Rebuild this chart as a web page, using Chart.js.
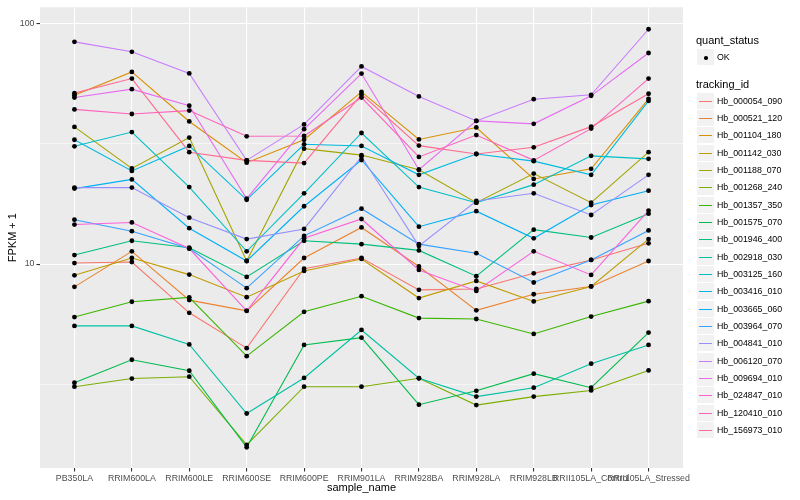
<!DOCTYPE html>
<html>
<head>
<meta charset="utf-8">
<script src="https://cdn.jsdelivr.net/npm/chart.js@4.4.1/dist/chart.umd.min.js"></script>
<style>
  body { margin: 0; background: #fff; }
  #wrap { position: relative; width: 800px; height: 500px; font-family: "Liberation Sans", Arial, sans-serif; }
  #legend { position: absolute; left: 0; top: 0; }
  .lg-title { position: absolute; font-size: 11px; line-height: 13px; color: #000; white-space: nowrap; }
  .lg-key { position: absolute; width: 17px; height: 16px; background: #f2f2f2; }
  .lg-label { position: absolute; font-size: 8.8px; line-height: 10px; color: #000; white-space: nowrap; }
</style>
</head>
<body>
<div id="wrap">
  <canvas id="chart" width="800" height="500"></canvas>
  <div id="legend"></div>
</div>
<script>
const sampleNames = ["PB350LA", "RRIM600LA", "RRIM600LE", "RRIM600SE", "RRIM600PE", "RRIM901LA",
  "RRIM928BA", "RRIM928LA", "RRIM928LB", "RRII105LA_Control", "RRII105LA_Stressed"];

const trackingIds = ["Hb_000054_090", "Hb_000521_120", "Hb_001104_180", "Hb_001142_030", "Hb_001188_070",
  "Hb_001268_240", "Hb_001357_350", "Hb_001575_070", "Hb_001946_400", "Hb_002918_030",
  "Hb_003125_160", "Hb_003416_010", "Hb_003665_060", "Hb_003964_070", "Hb_004841_010",
  "Hb_006120_070", "Hb_009694_010", "Hb_024847_010", "Hb_120410_010", "Hb_156973_010"];

// FPKM + 1, one value per sample
const hb_000054_090 = [10.1, 10.2, 6.27, 4.47, 9.57, 10.6, 7.81, 7.88, 9.15, 10.4, 12.2];
const hb_000521_120 = [8.04, 11.3, 7.08, 6.39, 10.6, 14.2, 9.77, 6.42, 7.49, 8.07, 10.3];
const hb_001104_180 = [50.4, 63.0, 39.2, 26.4, 32.9, 52.0, 33.0, 37.0, 22.6, 24.9, 48.7];
const hb_001142_030 = [8.98, 10.6, 9.04, 7.28, 9.36, 10.5, 7.22, 8.51, 6.99, 8.07, 12.7];
const hb_001188_070 = [37.2, 25.0, 33.6, 10.3, 30.2, 28.4, 24.7, 18.0, 23.8, 18.0, 29.2];
const hb_001268_240 = [3.09, 3.34, 3.40, 1.77, 3.09, 3.09, 3.35, 2.59, 2.81, 2.98, 3.61];
const hb_001357_350 = [6.02, 6.97, 7.27, 4.14, 6.33, 7.35, 5.96, 5.91, 5.12, 6.05, 7.01];
const hb_001575_070 = [3.21, 4.00, 3.60, 1.73, 4.61, 4.94, 2.60, 2.97, 3.50, 3.06, 5.19];
const hb_001946_400 = [10.9, 12.5, 11.7, 8.84, 12.5, 12.1, 11.4, 8.90, 13.9, 12.9, 16.2];
const hb_002918_030 = [5.53, 5.53, 4.63, 2.39, 3.36, 5.32, 3.35, 2.81, 3.06, 3.85, 4.61];
const hb_003125_160 = [30.9, 35.4, 20.9, 11.3, 19.7, 35.1, 20.9, 18.0, 21.4, 28.2, 27.4];
const hb_003416_010 = [32.9, 24.4, 31.0, 18.5, 31.5, 31.0, 23.5, 28.7, 26.8, 23.5, 47.7];
const hb_003665_060 = [20.6, 22.5, 14.1, 10.3, 17.4, 27.1, 14.3, 16.6, 12.8, 17.6, 20.2];
const hb_003964_070 = [15.3, 13.7, 11.6, 7.94, 13.1, 17.0, 12.1, 11.1, 8.38, 10.4, 13.8];
const hb_004841_010 = [20.8, 20.8, 15.6, 12.7, 14.0, 28.0, 11.9, 18.3, 19.7, 16.0, 23.5];
const hb_006120_070 = [84.0, 76.4, 62.1, 27.0, 38.1, 66.4, 49.8, 39.4, 48.5, 50.6, 94.8];
const hb_009694_010 = [49.3, 53.4, 45.6, 18.7, 36.4, 62.0, 24.7, 39.4, 38.3, 50.1, 75.5];
const hb_024847_010 = [14.6, 14.9, 11.6, 6.39, 12.8, 15.4, 9.45, 7.73, 11.3, 9.01, 16.7];
const hb_120410_010 = [44.0, 42.1, 43.5, 34.0, 34.1, 49.3, 27.9, 34.4, 27.0, 36.6, 59.1];
const hb_156973_010 = [51.4, 59.1, 29.2, 27.0, 26.3, 50.8, 31.1, 28.7, 30.6, 37.3, 51.1];

const seriesValues = [hb_000054_090, hb_000521_120, hb_001104_180, hb_001142_030, hb_001188_070,
  hb_001268_240, hb_001357_350, hb_001575_070, hb_001946_400, hb_002918_030,
  hb_003125_160, hb_003416_010, hb_003665_060, hb_003964_070, hb_004841_010,
  hb_006120_070, hb_009694_010, hb_024847_010, hb_120410_010, hb_156973_010];

const yTickValues = [10, 100];
const yMinorValues = [3.162, 31.62];

const seriesColors = ["#F8766D", "#EA8331", "#D89000", "#C09B00", "#A3A500", "#7CAE00", "#39B600",
  "#00BB4E", "#00BF7D", "#00C1A3", "#00BFC4", "#00BAE0", "#00B0F6", "#35A2FF", "#9590FF",
  "#C77CFF", "#E76BF3", "#FA62DB", "#FF62BC", "#FF6C91"];

const FONT = "Liberation Sans";

const panelBackground = {
  id: "panelBackground",
  beforeDraw(chart) {
    const { ctx, chartArea: a } = chart;
    ctx.save();
    ctx.fillStyle = "#ebebeb";
    ctx.fillRect(a.left, a.top, a.right - a.left, a.bottom - a.top);
    ctx.restore();
  },
};

const lineDatasets = seriesValues.map((vals, i) => ({
  label: trackingIds[i],
  data: vals.map((v, j) => ({ x: j, y: v })),
  showLine: true,
  borderColor: seriesColors[i],
  borderWidth: 1.1,
  pointRadius: 0,
  order: seriesValues.length - i,
}));

// points on top of every line
const pointDataset = {
  label: "OK",
  data: seriesValues.flatMap((vals) => vals.map((v, j) => ({ x: j, y: v }))),
  showLine: false,
  pointRadius: 2.4,
  pointBackgroundColor: "#000",
  pointBorderWidth: 0,
  order: -1,
};

new Chart(document.getElementById("chart").getContext("2d"), {
  type: "scatter",
  data: { datasets: [...lineDatasets, pointDataset] },
  plugins: [panelBackground],
  options: {
    responsive: false,
    animation: false,
    layout: { padding: { left: 0, top: 5, right: 117, bottom: 0 } },
    plugins: { legend: { display: false }, tooltip: { enabled: false } },
    scales: {
      x: {
        type: "linear",
        min: -0.6,
        max: sampleNames.length - 0.4,
        afterBuildTicks: (axis) => {
          axis.ticks = sampleNames.map((_, i) => ({ value: i }));
        },
        afterFit: (axis) => {
          axis.height = 32;
        },
        ticks: {
          callback: (v) => sampleNames[v],
          autoSkip: false,
          maxRotation: 0,
          minRotation: 0,
          color: "#4d4d4d",
          font: { family: FONT, size: 8.8 },
          padding: 1.5,
        },
        grid: { color: "#ffffff", lineWidth: 1.1, tickColor: "#333333", tickLength: 3.5 },
        border: { display: false },
        title: {
          display: true,
          text: "sample_name",
          color: "#000",
          font: { family: FONT, size: 11 },
          padding: { top: 0, bottom: 5 },
        },
      },
      y: {
        type: "logarithmic",
        min: 1.418,
        max: 117,
        afterBuildTicks: (axis) => {
          axis.ticks = [...yMinorValues, ...yTickValues].sort((a, b) => a - b).map((v) => ({ value: v }));
        },
        afterFit: (axis) => {
          axis.width = 40;
        },
        ticks: {
          callback: (v) => (yTickValues.includes(v) ? String(v) : ""),
          color: "#4d4d4d",
          font: { family: FONT, size: 8.8 },
          padding: 2,
        },
        grid: {
          color: "#ffffff",
          lineWidth: (c) => (c.tick && yTickValues.includes(c.tick.value) ? 1.1 : 0.55),
          tickColor: (c) => (c.tick && yTickValues.includes(c.tick.value) ? "#333333" : "rgba(0,0,0,0)"),
          tickLength: 3.5,
        },
        border: { display: false },
        title: {
          display: true,
          text: "FPKM + 1",
          color: "#000",
          font: { family: FONT, size: 11 },
          padding: { top: 6, bottom: 0 },
        },
      },
    },
  },
});

// ggplot style legend at the right
const legend = document.getElementById("legend");
function addBox(cls, left, top, text) {
  const el = document.createElement("div");
  el.className = cls;
  el.style.left = left + "px";
  el.style.top = top + "px";
  if (text) el.textContent = text;
  legend.appendChild(el);
  return el;
}

addBox("lg-title", 696, 34, "quant_status");
addBox("lg-key", 697, 49);
const dot = addBox("", 704, 56);
Object.assign(dot.style, { position: "absolute", width: "3.6px", height: "3.6px", borderRadius: "50%", background: "#000" });
addBox("lg-label", 717, 52, "OK");

addBox("lg-title", 696, 77.5, "tracking_id");
trackingIds.forEach((id, i) => {
  const cy = Math.round(100.7 + i * 17.33);
  addBox("lg-key", 697, cy - 8);
  const ln = addBox("", 699, cy - 0.5);
  Object.assign(ln.style, { position: "absolute", width: "13px", height: "1.6px", background: seriesColors[i] });
  addBox("lg-label", 717, cy - 5, id);
});
</script>
</body>
</html>
